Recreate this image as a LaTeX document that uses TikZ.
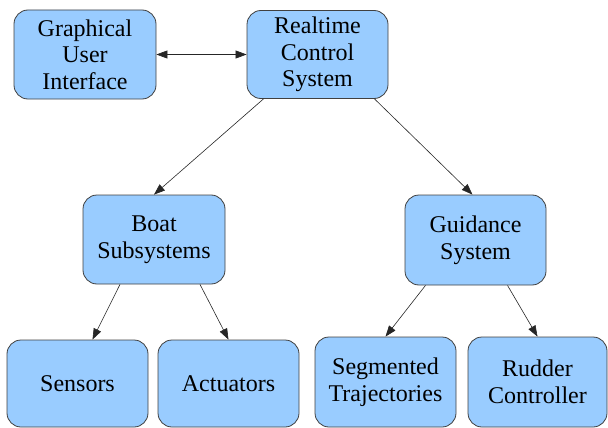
\documentclass[tikz,border=0pt]{standalone}
\usepackage{fontspec}
\setmainfont{Liberation Serif}
\usetikzlibrary{arrows.meta}
\definecolor{boxfill}{HTML}{99CCFF}
\definecolor{boxborder}{HTML}{404040}
\begin{document}
\begin{tikzpicture}[x=1pt,y=-1pt,
  box/.style={draw=boxborder, fill=boxfill, rounded corners=14pt, line width=0.8pt,
    align=center, inner sep=0pt, font=\fontsize{24}{26.7}\selectfont},
  conn/.style={-{Triangle[length=11pt,width=8pt]}, line width=0.6pt, draw=black!85},
  bconn/.style={{Triangle[length=11pt,width=8pt]}-{Triangle[length=11pt,width=8pt]}, line width=0.6pt, draw=black!85}]
\useasboundingbox (0,0) rectangle (608,428);
\node[box, minimum width=142pt, minimum height=89pt] (gui) at (85,54.5) {Graphical\\User\\Interface};
\node[box, minimum width=141pt, minimum height=88pt] (rcs) at (317.5,54.5) {Realtime\\Control\\System};
\node[box, minimum width=142pt, minimum height=89pt] (boat) at (154,239.5) {Boat\\Subsystems};
\node[box, minimum width=141pt, minimum height=90pt] (guid) at (475.5,240) {Guidance\\System};
\node[box, minimum width=141pt, minimum height=87pt] (sens) at (77.5,383.5) {Sensors};
\node[box, minimum width=141pt, minimum height=87pt] (act) at (228.5,383.5) {Actuators};
\node[box, minimum width=141pt, minimum height=90pt] (seg) at (385.5,382) {Segmented\\Trajectories};
\node[box, minimum width=139pt, minimum height=90pt] (rud) at (537.5,382) {Rudder\\Controller};
\draw[bconn] (gui) -- (rcs);
\draw[conn] ([xshift=-54pt]rcs.south) -- (boat.north);
\draw[conn] ([xshift=57pt]rcs.south) -- ([xshift=-3pt]guid.north);
\draw[conn] ([xshift=-34pt]boat.south) -- ([xshift=15pt]sens.north);
\draw[conn] ([xshift=46pt]boat.south) -- (act.north);
\draw[conn] ([xshift=-50pt]guid.south) -- (seg.north);
\draw[conn] ([xshift=32pt]guid.south) -- (rud.north);
\end{tikzpicture}
\end{document}
